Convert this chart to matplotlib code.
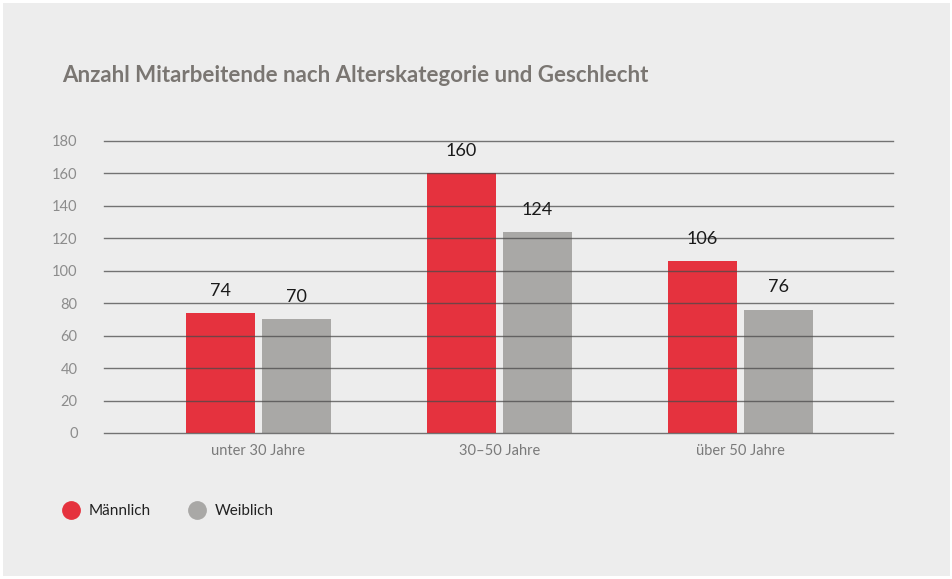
import matplotlib.pyplot as plt
from matplotlib.lines import Line2D
import numpy as np

categories = ['unter 30 Jahre', '30\u201350 Jahre', 'über 50 Jahre']
maennlich = [74, 160, 106]
weiblich = [70, 124, 76]
series_names = ['Männlich', 'Weiblich']
yticks = [0, 20, 40, 60, 80, 100, 120, 140, 160, 180]

red = '#e5323e'
grey = '#a9a8a6'
bg = '#ededed'

plt.rcParams['font.family'] = ['Lato', 'DejaVu Sans']

fig = plt.figure(figsize=(9.53, 5.79), dpi=100)
fig.patch.set_facecolor('white')
# light panel behind everything
fig.patches.append(plt.Rectangle((3 / 953, 3 / 579), 947 / 953, 573 / 579,
                                 transform=fig.transFigure, facecolor=bg,
                                 edgecolor='none', zorder=-5))

ax = fig.add_axes([104 / 953, 1 - 433 / 579, 789 / 953, 292 / 579])
ax.set_facecolor('none')
ax.set_zorder(1)

x = np.arange(len(categories))
w = 0.286
gap = 0.029
b1 = ax.bar(x - w / 2 - gap / 2, maennlich, w, color=red, zorder=1)
b2 = ax.bar(x + w / 2 + gap / 2, weiblich, w, color=grey, zorder=1)

for bars, vals in ((b1, maennlich), (b2, weiblich)):
    for b, v in zip(bars, vals):
        ax.annotate(str(v), (b.get_x() + b.get_width() / 2, v),
                    xytext=(0, 16), textcoords='offset points',
                    ha='center', va='center', fontsize=13, color='#1a1a1a', zorder=3)

ax.set_xlim(-0.641, 2.633)
ax.set_ylim(0, 180)
ax.set_yticks(yticks)
ax.yaxis.grid(True, color='#4a4a4a', linewidth=1, alpha=0.75, zorder=2)
ax.set_axisbelow(False)
for gl in ax.get_ygridlines():
    gl.set_clip_on(False)
for s in ax.spines.values():
    s.set_visible(False)
ax.tick_params(axis='y', length=0, pad=19, labelsize=10.5, labelcolor='#8c8c8c')
ax.set_xticks(x)
ax.set_xticklabels(categories)
ax.tick_params(axis='x', length=0, pad=8, labelsize=10.5, labelcolor='#7a7a7a')

fig.text(62 / 953, 1 - 75 / 579, 'Anzahl Mitarbeitende nach Alterskategorie und Geschlecht',
         fontsize=16, fontweight='bold', color='#7a7672', va='center', ha='left')

# legend
for cx, tx, col, name in ((71, 89, red, series_names[0]), (197, 215, grey, series_names[1])):
    fig.add_artist(Line2D([cx / 953], [1 - 510 / 579], transform=fig.transFigure,
                          marker='o', markersize=12.5, color=col, linestyle='none'))
    fig.text(tx / 953, 1 - 511 / 579, name, fontsize=11, color='#222222',
             va='center', ha='left')

fig.savefig('out.png', dpi=100, facecolor=fig.get_facecolor())
